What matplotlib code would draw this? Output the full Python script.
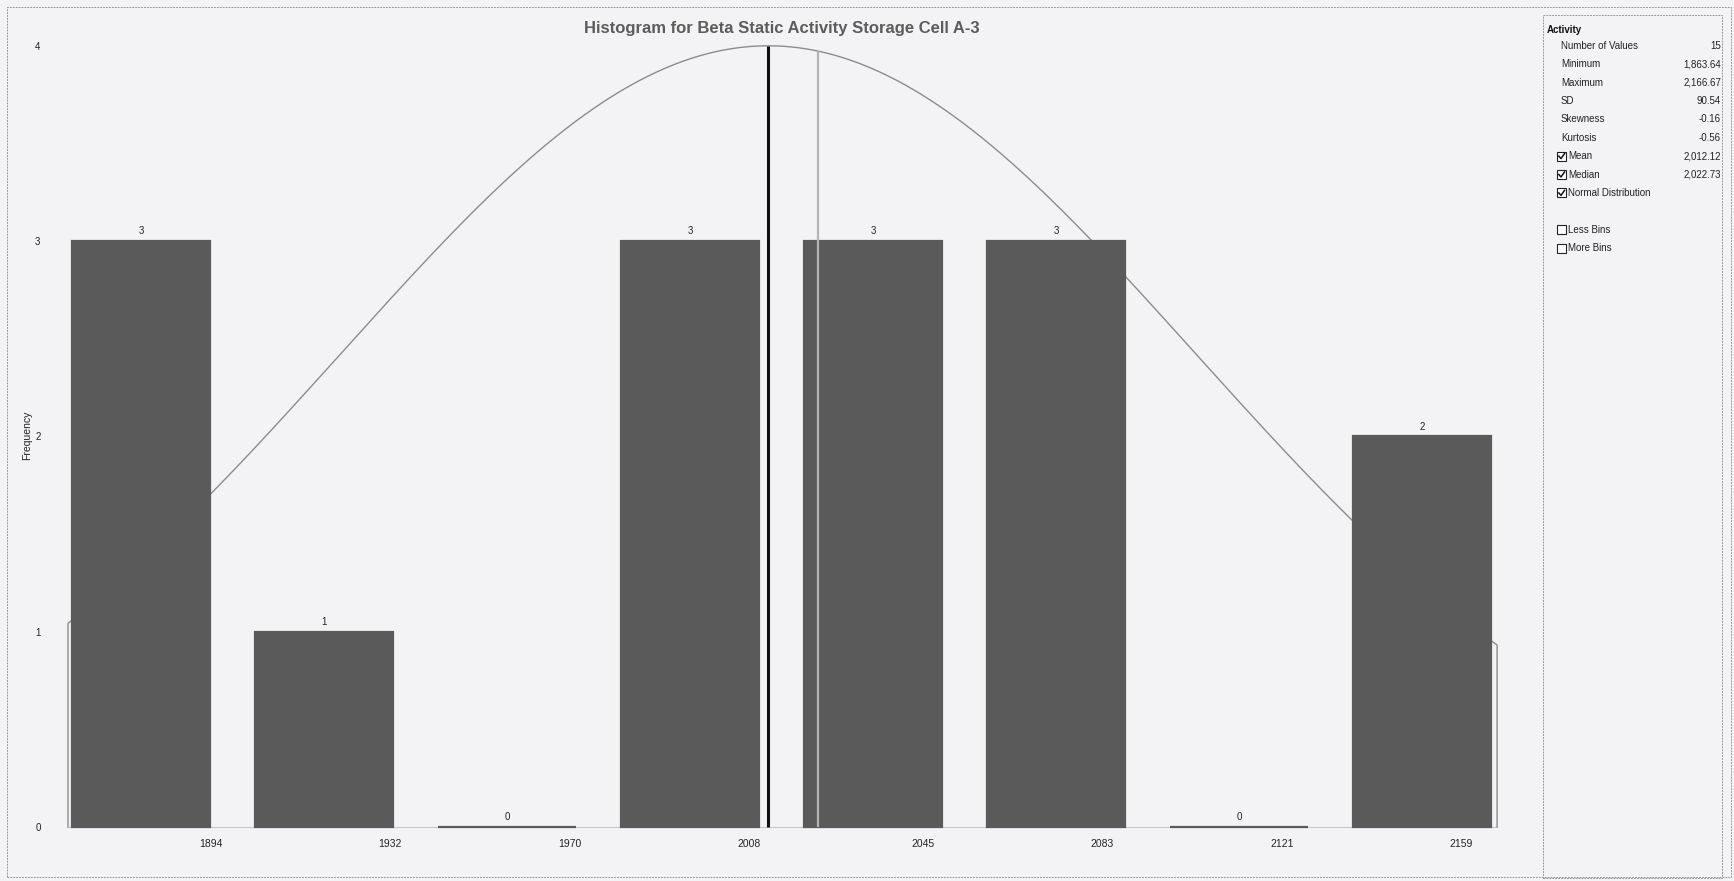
import numpy as np
import matplotlib
matplotlib.use('Agg')
import matplotlib.pyplot as plt
from matplotlib.patches import Rectangle
from matplotlib.lines import Line2D

# ---------------- data ----------------
title = "Histogram for Beta Static Activity Storage Cell A-3"
bin_labels = ['1894', '1932', '1970', '2008', '2045', '2083', '2121', '2159']
counts = [3, 1, 0, 3, 3, 3, 0, 2]
y_ticks = [0, 1, 2, 3, 4]
v_min = 1863.64
v_max = 2166.67
sd = 90.54
mean = 2012.12
median = 2022.73
curve_peak = 4

panel_title = "Activity"
stat_names = ['Number of Values', 'Minimum', 'Maximum', 'SD', 'Skewness', 'Kurtosis']
stat_values = ['15', '1,863.64', '2,166.67', '90.54', '-0.16', '-0.56']
check_names = ['Mean', 'Median', 'Normal Distribution']
check_values = ['2,012.12', '2,022.73', '']
check_states = [True, True, True]
option_names = ['Less Bins', 'More Bins']
option_states = [False, False]

# ---------------- layout ----------------
W, H = 1734, 881
DPI = 100
BG = '#f3f3f5'
BAR = '#5a5a5a'
NARROW = ['Liberation Sans Narrow', 'Liberation Sans', 'DejaVu Sans']
SANS = ['Liberation Sans', 'DejaVu Sans']

fig = plt.figure(figsize=(W / DPI, H / DPI), dpi=DPI, facecolor=BG)

def fx(px):
    return px / W

def fy(py):
    return 1 - py / H

ax_l_px, ax_r_px, ax_t_px, ax_b_px = 60, 1510, 30, 835
rect = [fx(ax_l_px), fy(ax_b_px), fx(ax_r_px) - fx(ax_l_px), fy(ax_t_px) - fy(ax_b_px)]

# value-axis scale (px per unit) and anchoring
v_ppu = 4.716
v_anchor_px = 68
v_xlim = (v_min - (v_anchor_px - ax_l_px) / v_ppu, v_min + (ax_r_px - v_anchor_px) / v_ppu)
# category-axis scale
c0_px, c_step = 141, 183
c_xlim = ((ax_l_px - c0_px) / c_step, (ax_r_px - c0_px) / c_step)
# y scale
y0_px, y_ppu = 827, 195.3
ylim = (-(ax_b_px - y0_px) / y_ppu, (y0_px - ax_t_px) / y_ppu)

ax_c = fig.add_axes(rect)          # curve + ticks (value axis)
ax_b = fig.add_axes(rect)          # bars (category axis)
ax_m = fig.add_axes(rect)          # mean / median lines (value axis)

for a in (ax_c, ax_b, ax_m):
    a.set_ylim(*ylim)
    a.patch.set_visible(False)
    for s in a.spines.values():
        s.set_visible(False)
ax_c.set_xlim(*v_xlim)
ax_m.set_xlim(*v_xlim)
ax_b.set_xlim(*c_xlim)

# normal distribution curve (behind bars)
xs = np.linspace(v_min, v_max, 400)
ys = curve_peak * np.exp(-0.5 * ((xs - mean) / sd) ** 2)
ax_c.plot([v_min, v_max], [0, 0], color='#c8c8c8', lw=0.8)
ax_c.plot(np.r_[v_min, xs, v_max], np.r_[0, ys, 0], color='#8c8c8c', lw=1.0)

# bars
xpos = np.arange(len(counts))
bars = ax_b.bar(xpos, counts, width=0.75, color=BAR, edgecolor=BAR, linewidth=1.6)
for x, c in zip(xpos, counts):
    ax_b.text(x, c + 0.025, str(c), ha='center', va='bottom', fontsize=7,
              family=SANS, color='#222222')

# mean and median lines
peak_mean = curve_peak * np.exp(-0.5 * ((mean - mean) / sd) ** 2)
peak_med = curve_peak * np.exp(-0.5 * ((median - mean) / sd) ** 2)
ax_m.plot([mean, mean], [0, peak_mean], color='#111111', lw=2.2, solid_capstyle='butt')
ax_m.plot([median, median], [0, peak_med], color='#b4b4b4', lw=1.6, solid_capstyle='butt')

# ticks
ax_c.set_yticks(y_ticks)
ax_c.set_yticklabels([str(t) for t in y_ticks], fontsize=7, family=SANS, color='#222222')
ax_c.set_xticks([float(l) for l in bin_labels])
ax_c.set_xticklabels(bin_labels, fontsize=7.5, family=NARROW, color='#222222')
ax_c.tick_params(axis='y', length=0, pad=14)
ax_c.tick_params(axis='x', length=0, pad=3)
for a in (ax_b, ax_m):
    a.set_xticks([])
    a.set_yticks([])

fig.text(fx(27), fy(435), 'Frequency', rotation=90, ha='center', va='center',
         fontsize=7.5, family=SANS, color='#222222')

fig.text(fx(782), fy(29), title, ha='center', va='center', fontsize=12,
         fontweight='bold', family=SANS, color='#5c5c5c')

# outer frame
fig.patches.append(Rectangle((fx(7), fy(877)), fx(1731) - fx(7), fy(7) - fy(877),
                             transform=fig.transFigure, fill=False,
                             edgecolor='#9a9a9a', lw=0.7, linestyle=(0, (2, 1))))

# ---------------- statistics panel ----------------
fig.patches.append(Rectangle((fx(1543), fy(878)), fx(1722) - fx(1543), fy(15) - fy(878),
                             transform=fig.transFigure, fill=False,
                             edgecolor='#9a9a9a', lw=0.7, linestyle=(0, (2, 1))))
fig.text(fx(1547), fy(30), panel_title, ha='left', va='center', fontsize=7,
         fontweight='bold', family=SANS, color='#111111')

row0, row_step = 45.7, 18.4
val_x = 1721

def checkbox(py, checked):
    fig.patches.append(Rectangle((fx(1557), fy(py + 4.5)), fx(9), 9 / H,
                                 transform=fig.transFigure, fill=True,
                                 facecolor='white', edgecolor='#222222', lw=0.8))
    if checked:
        fig.lines.append(Line2D([fx(1558.8), fx(1561), fx(1564.5)],
                                [fy(py), fy(py + 2.5), fy(py - 2.5)],
                                transform=fig.transFigure, color='#111111', lw=1.1))

k = 0
for name, val in zip(stat_names, stat_values):
    py = row0 + row_step * k
    fig.text(fx(1561), fy(py), name, ha='left', va='center', fontsize=7,
             family=SANS, color='#222222')
    fig.text(fx(val_x), fy(py), val, ha='right', va='center', fontsize=7,
             family=SANS, color='#222222')
    k += 1
for name, val, st in zip(check_names, check_values, check_states):
    py = row0 + row_step * k
    checkbox(py, st)
    fig.text(fx(1568), fy(py), name, ha='left', va='center', fontsize=7,
             family=SANS, color='#222222')
    if val:
        fig.text(fx(val_x), fy(py), val, ha='right', va='center', fontsize=7,
                 family=SANS, color='#222222')
    k += 1
k += 1
for name, st in zip(option_names, option_states):
    py = row0 + row_step * k
    checkbox(py, st)
    fig.text(fx(1568), fy(py), name, ha='left', va='center', fontsize=7,
             family=SANS, color='#222222')
    k += 1

fig.savefig('out.png', dpi=DPI, facecolor=BG)
